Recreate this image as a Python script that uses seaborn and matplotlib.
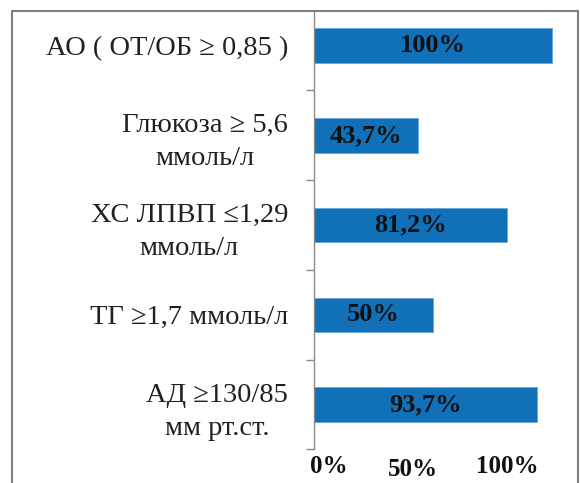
import matplotlib
matplotlib.use("Agg")
import matplotlib.pyplot as plt
import matplotlib.transforms as mtransforms
from matplotlib.lines import Line2D
import numpy as np
import pandas as pd
import seaborn as sns

# Components of the metabolic syndrome and their prevalence, %
categories = [
    "АО ( ОТ/ОБ ≥ 0,85 )",
    "Глюкоза ≥ 5,6\nммоль/л",
    "ХС ЛПВП ≤1,29\nммоль/л",
    "ТГ ≥1,7 ммоль/л",
    "АД ≥130/85\nмм рт.ст.",
]
values = [100, 43.7, 81.2, 50, 93.7]
x_ticks = [0, 50, 100]
x_tick_labels = ["0%", "50%", "100%"]

sns.set_theme(style="white")
plt.rcParams["font.family"] = ["Liberation Serif", "DejaVu Serif"]

W, H, DPI = 580, 483, 100
fig = plt.figure(figsize=(W / DPI, H / DPI), dpi=DPI)
fig.patch.set_facecolor("white")

# axes placed in pixel units
ax_l, ax_r, ax_t, ax_b = 313.7, 577.0, 11.0, 449.5
ax = fig.add_axes([ax_l / W, 1 - ax_b / H, (ax_r - ax_l) / W, (ax_b - ax_t) / H])

df = pd.DataFrame({"category": categories, "value": values})
bar_color = "#1070B8"
sns.barplot(data=df, x="value", y="category", orient="h", color=bar_color,
            width=0.385, edgecolor="#6aa6dc", linewidth=0.6, saturation=1, ax=ax)

ax.set_xlim(0, (ax_r - ax_l) / 2.386)
ax.set_ylim(4.5, -0.385)
ax.set_xlabel("")
ax.set_ylabel("")

# value labels inside the bars
labels = [f"{v:g}".replace(".", ",") + "%" for v in values]
ax.bar_label(ax.containers[0], labels=labels, label_type="center",
             fontsize=19, fontweight="bold", color="#111111")

# spines: only the left one is visible
for side in ["top", "right", "bottom"]:
    ax.spines[side].set_visible(False)
ax.spines["left"].set_color("#8a8a8a")
ax.spines["left"].set_linewidth(1.0)

# category labels at bar centres, separator ticks between categories
ax.set_yticks(range(len(categories)))
ax.set_yticklabels(categories, fontsize=20.5, color="#231f20")
for lbl in ax.get_yticklabels():
    lbl.set_multialignment("center")
    lbl.set_linespacing(1.43)
ax.set_yticks(np.arange(len(categories)) + 0.5, minor=True)
ax.tick_params(axis="y", which="major", length=0, pad=18.5)
ax.tick_params(axis="y", which="minor", length=6, width=1.0, color="#8a8a8a", left=True)

# x axis labels
ax.set_xticks(x_ticks)
ax.set_xticklabels(x_tick_labels, fontsize=18, fontweight="bold", color="#111111")
ax.tick_params(axis="x", which="major", length=0, pad=4, bottom=True)
shifts = [(15, 0), (-20.5, -3), (-45, 0)]
for lbl, (dx, dy) in zip(ax.get_xticklabels(), shifts):
    lbl.set_transform(lbl.get_transform() +
                      mtransforms.ScaledTranslation(dx / DPI, dy / DPI, fig.dpi_scale_trans))
ax.grid(False)

# outer frame around the chart
def px(x, y):
    return fig.transFigure.transform((x / W, 1 - y / H))
pts = [px(12.3, 483), px(12.3, 11), px(577.7, 11), px(577.7, 483)]
xs, ys = zip(*pts)
fig.add_artist(Line2D(xs, ys, color="#7f7f7f", linewidth=1.5, transform=None))

fig.savefig("out.png", dpi=DPI, facecolor="white")
